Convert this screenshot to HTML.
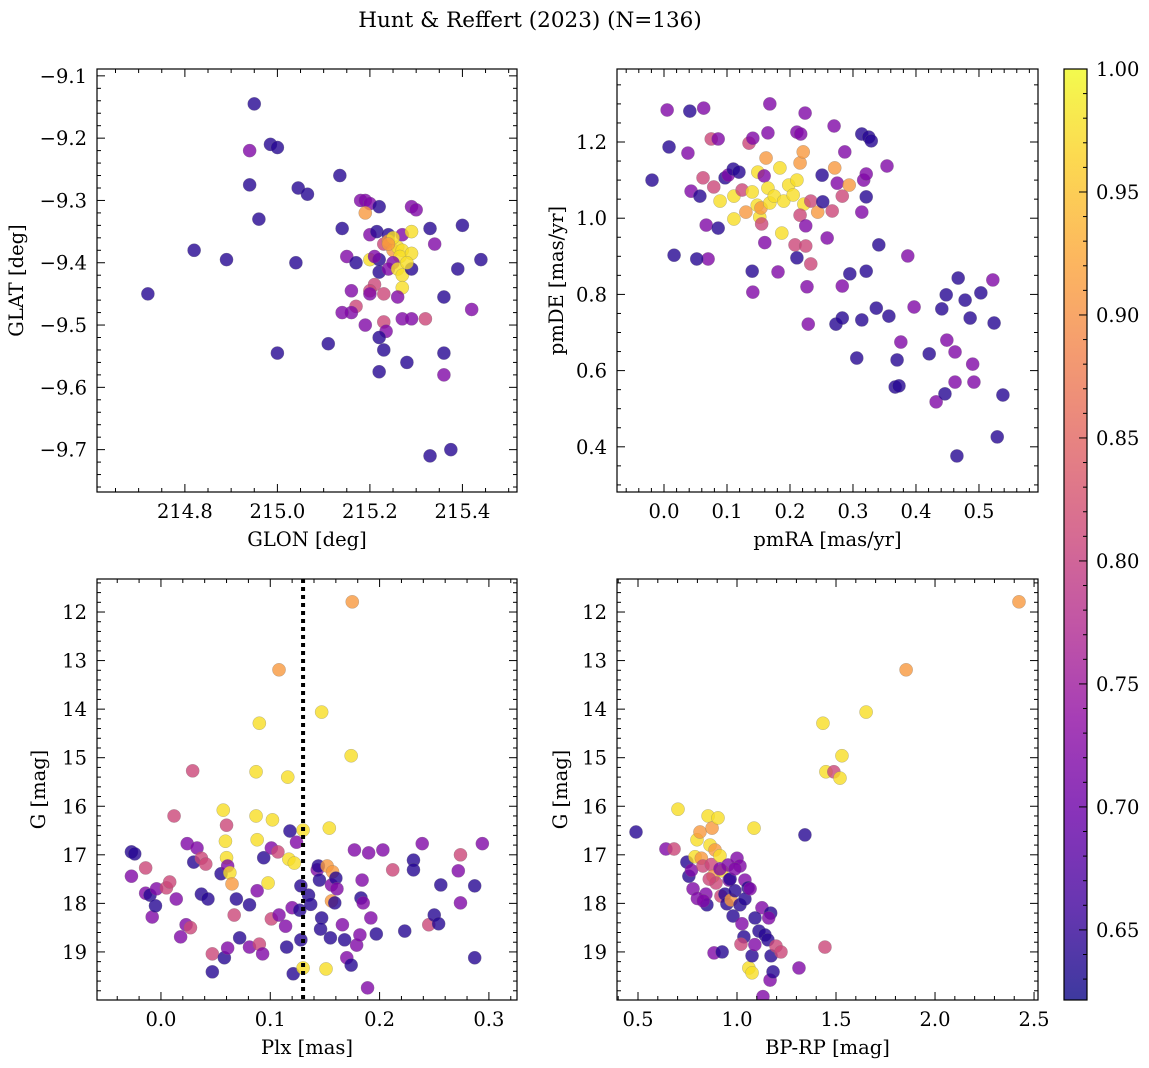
<!DOCTYPE html>
<html><head><meta charset="utf-8"><style>
body{margin:0;background:#fff}
svg{display:block;font-family:"DejaVu Serif","Liberation Serif",serif}
</style></head><body>
<svg id="fig" width="1149" height="1068" viewBox="0 0 1149 1068" xmlns="http://www.w3.org/2000/svg">
<rect width="1149" height="1068" fill="#fff"/>
<text x="530" y="27" font-size="21.5" text-anchor="middle">Hunt &amp; Reffert (2023) (N=136)</text>
</svg>
<script>
// colour classes: D=dark, P=purple, K=pink, O=orange, Y=yellow
const D=0.64,P=0.72,K=0.81,O=0.91,Y=0.975;
// Panel 1: GLON / GLAT
const p1x=[214.72,214.95,214.94,214.985,215.0,214.94,214.96,214.82,214.89,215.045,215.065,215.04,215.0,215.11,215.135,215.18,215.19,215.2,215.22,215.29,215.3,215.14,215.2,215.19,215.215,215.24,215.27,215.29,215.33,215.4,215.34,215.15,215.17,215.2,215.23,215.24,215.25,215.26,215.27,215.265,215.29,215.25,215.22,215.24,215.26,215.27,215.29,215.22,215.21,215.2,215.16,215.2,215.27,215.26,215.39,215.36,215.42,215.17,215.16,215.14,215.19,215.23,215.23,215.27,215.29,215.32,215.235,215.22,215.23,215.28,215.22,215.36,215.36,215.33,215.375,215.44,215.25,215.28,215.21,215.24];
const p1y=[-9.45,-9.145,-9.22,-9.21,-9.215,-9.275,-9.33,-9.38,-9.395,-9.28,-9.29,-9.4,-9.545,-9.53,-9.26,-9.3,-9.3,-9.305,-9.31,-9.31,-9.315,-9.345,-9.355,-9.32,-9.35,-9.355,-9.355,-9.35,-9.345,-9.34,-9.37,-9.39,-9.4,-9.395,-9.37,-9.365,-9.38,-9.375,-9.38,-9.39,-9.385,-9.4,-9.415,-9.41,-9.41,-9.42,-9.41,-9.395,-9.435,-9.445,-9.445,-9.45,-9.44,-9.455,-9.41,-9.455,-9.475,-9.47,-9.48,-9.48,-9.5,-9.45,-9.495,-9.49,-9.49,-9.49,-9.51,-9.52,-9.54,-9.56,-9.575,-9.545,-9.58,-9.71,-9.7,-9.395,-9.36,-9.4,-9.39,-9.37];
const p1c=[D,D,P,D,D,D,D,D,D,D,D,D,D,D,D,P,P,P,D,P,P,D,P,O,D,D,P,Y,D,D,P,P,D,Y,K,O,O,Y,Y,Y,Y,P,D,P,Y,Y,D,D,K,K,P,P,Y,P,D,D,P,K,P,P,P,K,K,P,P,K,P,D,D,D,D,D,P,D,D,D,Y,Y,P,O];
// Panel 2: pmRA / pmDE
const p2x=[-0.019,0.005,0.008,0.016,0.041,0.063,0.038,0.043,0.057,0.062,0.067,0.07,0.052,0.075,0.086,0.079,0.086,0.089,0.097,0.102,0.11,0.111,0.111,0.119,0.124,0.13,0.135,0.141,0.14,0.141,0.14,0.149,0.148,0.152,0.154,0.155,0.159,0.162,0.165,0.168,0.165,0.168,0.175,0.16,0.184,0.187,0.181,0.19,0.198,0.205,0.211,0.208,0.211,0.211,0.217,0.216,0.221,0.224,0.222,0.216,0.225,0.225,0.233,0.227,0.229,0.233,0.244,0.251,0.252,0.259,0.267,0.271,0.27,0.275,0.283,0.287,0.294,0.295,0.283,0.273,0.283,0.306,0.314,0.314,0.325,0.329,0.317,0.321,0.314,0.321,0.321,0.337,0.341,0.354,0.357,0.367,0.373,0.37,0.376,0.387,0.397,0.421,0.432,0.441,0.448,0.446,0.449,0.462,0.462,0.467,0.465,0.478,0.486,0.49,0.492,0.503,0.522,0.524,0.529,0.538];
const p2y=[1.1,1.284,1.187,0.903,1.281,1.289,1.171,1.071,1.058,1.106,0.982,0.893,0.893,1.208,1.208,1.082,0.974,1.045,1.106,1.113,1.129,1.058,0.998,1.121,1.074,1.016,1.197,1.21,0.861,0.806,1.069,1.121,1.034,1.003,1.027,0.985,1.111,1.158,1.224,1.3,1.079,1.04,1.058,0.936,1.132,0.961,0.859,1.045,1.087,1.061,1.1,0.93,0.896,1.226,1.221,1.145,1.174,1.276,1.037,1.008,0.98,0.927,0.88,0.82,0.722,1.045,1.016,1.113,1.043,0.948,1.019,1.132,1.242,1.092,1.058,1.174,1.087,0.854,0.822,0.722,0.738,0.633,0.733,1.221,1.213,1.203,1.1,1.116,1.016,1.056,0.861,0.764,0.93,1.137,0.743,0.557,0.56,0.628,0.675,0.901,0.767,0.644,0.518,0.762,0.799,0.539,0.68,0.649,0.57,0.843,0.376,0.785,0.738,0.617,0.57,0.804,0.838,0.725,0.426,0.536];
const p2c=[D,P,D,D,D,P,P,P,D,K,P,P,D,K,P,K,D,Y,D,P,D,Y,Y,D,K,O,K,P,D,P,Y,Y,Y,Y,O,K,P,O,P,P,Y,Y,Y,P,Y,Y,P,Y,Y,Y,Y,K,D,P,P,O,O,P,Y,K,P,K,K,P,P,K,O,D,D,P,K,O,P,P,K,P,O,D,P,D,D,D,D,D,D,D,P,P,P,D,D,D,D,P,D,D,D,D,P,P,P,D,P,D,D,D,P,P,P,D,D,D,D,P,P,D,P,D,D,D];
// Panel 3: Plx / G
const p3x=[-0.027,-0.024,-0.027,-0.014,-0.014,-0.01,-0.004,-0.008,-0.005,0.005,0.008,0.014,0.012,0.024,0.029,0.03,0.033,0.037,0.041,0.037,0.043,0.023,0.027,0.018,0.047,0.047,0.058,0.061,0.055,0.057,0.06,0.059,0.06,0.061,0.063,0.065,0.067,0.069,0.072,0.081,0.09,0.093,0.081,0.088,0.087,0.087,0.09,0.088,0.094,0.098,0.101,0.101,0.102,0.108,0.107,0.108,0.114,0.115,0.116,0.117,0.118,0.12,0.121,0.124,0.122,0.13,0.128,0.127,0.128,0.13,0.135,0.137,0.143,0.144,0.145,0.147,0.146,0.147,0.151,0.155,0.154,0.152,0.156,0.157,0.156,0.159,0.16,0.161,0.166,0.168,0.17,0.174,0.175,0.177,0.174,0.179,0.182,0.183,0.184,0.185,0.189,0.192,0.19,0.197,0.203,0.212,0.223,0.231,0.231,0.239,0.245,0.25,0.254,0.256,0.272,0.274,0.274,0.287,0.287,0.294];
const p3y=[16.94,16.98,17.44,17.27,17.79,17.83,17.7,18.28,18.05,17.68,17.56,17.91,16.2,16.77,15.27,17.15,16.86,17.07,17.19,17.81,17.91,18.44,18.5,18.69,19.04,19.41,19.12,18.92,17.39,16.08,16.39,16.72,17.06,17.23,17.37,17.6,18.24,17.91,18.71,18.9,18.84,19.04,18.03,17.74,16.2,15.29,14.29,16.69,17.06,17.58,16.86,18.32,16.28,13.19,16.94,18.24,18.47,18.9,15.4,17.09,16.51,18.09,19.45,16.74,17.17,16.49,17.64,18.14,18.75,19.33,17.83,18.02,17.31,17.23,17.52,18.3,18.53,14.06,19.35,18.71,16.45,17.23,17.62,17.35,17.95,17.99,17.48,17.7,18.44,18.75,19.12,14.96,11.79,16.9,19.27,18.86,18.65,17.89,17.52,17.99,19.74,18.3,16.96,18.63,16.9,17.31,18.57,17.11,17.31,16.77,18.44,18.24,18.42,17.62,17.33,17.0,17.99,17.64,19.12,16.77];
const p3c=[D,D,P,K,P,D,P,P,D,K,K,P,K,P,K,D,P,K,K,D,D,P,K,P,K,D,D,P,D,Y,K,Y,Y,P,Y,O,K,D,D,P,K,P,D,P,Y,Y,Y,Y,D,Y,P,K,Y,O,K,P,P,D,Y,Y,D,P,D,P,Y,Y,D,D,D,Y,D,D,P,D,D,D,D,Y,Y,D,Y,O,P,O,O,D,D,P,P,D,P,Y,O,P,D,P,P,D,P,P,P,P,P,D,P,K,D,D,D,P,K,D,D,D,P,K,P,D,D,P];
// Panel 4: BP-RP / G
const p4x=[0.49,0.641,0.682,0.702,0.747,0.757,0.77,0.778,0.788,0.798,0.813,0.82,0.828,0.843,0.848,0.854,0.864,0.87,0.879,0.889,0.874,0.894,0.904,0.914,0.924,0.919,0.884,0.925,0.939,0.949,0.955,0.96,0.97,0.98,0.99,1.0,1.015,1.025,1.035,1.04,1.056,1.02,1.06,1.076,1.076,1.086,1.015,1.09,1.111,1.126,1.141,1.156,1.172,1.167,1.182,1.197,1.222,1.131,1.313,1.17,1.343,1.444,1.434,1.449,1.489,1.52,1.53,1.652,1.854,2.424,0.914,0.965,0.99,1.04,1.066,1.091,1.16,0.80,0.86,0.83];
const p4y=[16.53,16.88,16.88,16.06,17.15,17.44,17.32,17.7,17.04,16.69,16.53,17.07,17.23,17.81,18.03,16.2,16.8,17.2,17.44,16.9,16.45,17.58,16.24,17.02,17.33,17.85,19.02,19.0,17.81,18.01,17.21,17.52,17.93,18.26,17.74,17.07,18.03,18.42,18.69,17.52,17.68,18.84,19.33,19.43,19.08,16.45,17.23,18.85,18.57,18.09,18.65,18.75,19.08,19.58,19.41,18.88,19.0,19.92,19.33,18.2,16.59,18.9,14.29,15.29,15.29,15.42,14.96,14.06,13.19,11.79,17.29,17.5,17.29,17.91,17.7,18.3,18.3,17.9,17.5,17.95];
const p4c=[D,P,K,Y,D,D,P,P,Y,Y,O,O,K,P,D,Y,Y,K,O,O,O,K,Y,Y,Y,K,P,D,D,D,P,P,O,D,D,P,D,P,D,P,D,K,Y,Y,D,Y,P,P,D,P,D,D,D,P,D,K,K,P,P,D,D,K,Y,Y,K,Y,Y,Y,O,O,P,D,P,D,P,D,P,P,K,P];
// dashed line in panel 3
const plxLine=[0.13];
// colorbar
const cbTicks=[0.65,0.70,0.75,0.80,0.85,0.90,0.95,1.00];
const cbMin=0.6215,cbMax=1.0;

const NS="http://www.w3.org/2000/svg";
const svg=document.getElementById('fig');
const FS=19.5;
function mk(tag,attrs,parent){const e=document.createElementNS(NS,tag);for(const k in attrs)e.setAttribute(k,attrs[k]);(parent||svg).appendChild(e);return e;}
const stops=['#0d0887','#41049d','#6a00a8','#8f0da4','#b12a90','#cc4778','#e16462','#f2844b','#fca636','#fcce25','#f0f921'];
function hex(h){return[parseInt(h.slice(1,3),16),parseInt(h.slice(3,5),16),parseInt(h.slice(5,7),16)];}
function plasma(v){let t=(v-cbMin)/(cbMax-cbMin);t=Math.max(0,Math.min(1,t));const f=t*10,i=Math.min(9,Math.floor(f)),r=f-i;const a=hex(stops[i]),b=hex(stops[i+1]);return 'rgb('+a.map((x,k)=>Math.round(x+(b[k]-x)*r)).join(',')+')';}
function fmt(v,d){return (v<0?'\u2212':'')+Math.abs(v).toFixed(d);}

function panel(cfg){
  const g=mk('g',{});
  
  
  const {L,T,R,B,xmin,xmax,ymin,ymax,yinv}=cfg;
  const sx=v=>L+(v-xmin)/(xmax-xmin)*(R-L);
  const sy=v=>yinv?T+(v-ymin)/(ymax-ymin)*(B-T):B-(v-ymin)/(ymax-ymin)*(B-T);
  const clip='c'+cfg.name;
  const cp=mk('clipPath',{id:clip},g);mk('rect',{x:L,y:T,width:R-L,height:B-T},cp);
  const pts=mk('g',{'clip-path':'url(#'+clip+')'},g);
  
  
  for(let i=0;i<cfg.xs.length;i++){
    const c=mk('circle',{cx:sx(cfg.xs[i]),cy:sy(cfg.ys[i]),r:6.6,fill:plasma(cfg.cs[i]),'fill-opacity':0.8,stroke:'#777','stroke-opacity':0.5,'stroke-width':0.5},pts);
    
    
  }
  if(cfg.vline){for(const v of cfg.vline){const l=mk('line',{x1:sx(v),x2:sx(v),y1:T,y2:B,stroke:'#000','stroke-width':4,'stroke-dasharray':'4,4'},g);
    
    }}
  mk('rect',{x:L,y:T,width:R-L,height:B-T,fill:'none',stroke:'#000','stroke-width':1.2},g);
  const tk=mk('g',{stroke:'#000','stroke-width':1},g);
  const eps=1e-9;
  for(let v=Math.ceil(xmin/cfg.xmi-eps)*cfg.xmi;v<=xmax+eps;v+=cfg.xmi){const x=sx(v);const maj=Math.abs(v/cfg.xma-Math.round(v/cfg.xma))<1e-6;const len=maj?8:4;
    mk('line',{x1:x,x2:x,y1:B,y2:B-len},tk);mk('line',{x1:x,x2:x,y1:T,y2:T+len},tk);
    if(maj){const t=mk('text',{x:x,y:B+26,'font-size':FS,'text-anchor':'middle',stroke:'none'},g);t.textContent=fmt(v,cfg.xd);
      
      }}
  for(let v=Math.ceil(ymin/cfg.ymi-eps)*cfg.ymi;v<=ymax+eps;v+=cfg.ymi){const y=sy(v);const maj=Math.abs(v/cfg.yma-Math.round(v/cfg.yma))<1e-6;const len=maj?8:4;
    mk('line',{x1:L,x2:L+len,y1:y,y2:y},tk);mk('line',{x1:R,x2:R-len,y1:y,y2:y},tk);
    if(maj){const t=mk('text',{x:L-10,y:y+7,'font-size':FS,'text-anchor':'end'},g);t.textContent=fmt(v,cfg.yd);
      
      }}
  const xl=mk('text',{x:(L+R)/2,y:B+54,'font-size':FS,'text-anchor':'middle'},g);xl.textContent=cfg.xlabel;
  
  
  const yl=mk('text',{x:cfg.ylx,y:(T+B)/2,'font-size':FS,'text-anchor':'middle',transform:'rotate(-90 '+cfg.ylx+' '+(T+B)/2+')'},g);yl.textContent=cfg.ylabel;
  
  
}
panel({name:'glon-glat-panel',L:97,T:69,R:517,B:492,xmin:214.61,xmax:215.518,ymin:-9.768,ymax:-9.089,xs:p1x,ys:p1y,cs:p1c,xma:0.2,xmi:0.05,yma:0.1,ymi:0.02,xd:1,yd:1,xlabel:'GLON [deg]',ylabel:'GLAT [deg]',ylx:23});
panel({name:'proper-motion-panel',L:617,T:69,R:1038,B:492,xmin:-0.0746,xmax:0.5937,ymin:0.2814,ymax:1.3916,xs:p2x,ys:p2y,cs:p2c,xma:0.1,xmi:0.02,yma:0.2,ymi:0.05,xd:1,yd:1,xlabel:'pmRA [mas/yr]',ylabel:'pmDE [mas/yr]',ylx:563});
panel({name:'parallax-mag-panel',L:97,T:579,R:517,B:1000,xmin:-0.0585,xmax:0.3257,ymin:11.32,ymax:19.99,yinv:true,xs:p3x,ys:p3y,cs:p3c,xma:0.1,xmi:0.02,yma:1,ymi:0.2,xd:1,yd:0,xlabel:'Plx [mas]',ylabel:'G [mag]',ylx:45,vline:plxLine});
panel({name:'cmd-panel',L:617,T:579,R:1038,B:1000,xmin:0.394,xmax:2.52,ymin:11.32,ymax:19.99,yinv:true,xs:p4x,ys:p4y,cs:p4c,xma:0.5,xmi:0.1,yma:1,ymi:0.2,xd:1,yd:0,xlabel:'BP-RP [mag]',ylabel:'G [mag]',ylx:567});

// colorbar
const cb=mk('g',{});


const defs=mk('defs',{},cb);const lg=mk('linearGradient',{id:'cbg',x1:0,y1:1,x2:0,y2:0},defs);
for(let i=0;i<=20;i++){const v=cbMin+(cbMax-cbMin)*i/20;mk('stop',{offset:i/20,'stop-color':plasma(v)},lg);}
const CL=1064,CR=1087,CT=69,CB=1000;
mk('rect',{x:CL,y:CT,width:CR-CL,height:CB-CT,fill:'url(#cbg)','fill-opacity':0.8},cb);
mk('rect',{x:CL,y:CT,width:CR-CL,height:CB-CT,fill:'none',stroke:'#000','stroke-width':1.2},cb);
const cy=v=>CB-(v-cbMin)/(cbMax-cbMin)*(CB-CT);
for(let k=63;k<=100;k++){const v=k/100;const y=cy(v);const maj=k%5==0;mk('line',{x1:CR,x2:CR-(maj?8:4),y1:y,y2:y,stroke:'#000','stroke-width':1},cb);}
for(const v of cbTicks){const t=mk('text',{x:CR+9,y:cy(v)+7,'font-size':FS},cb);t.textContent=v.toFixed(2);
  
  }
</script>
</body></html>
